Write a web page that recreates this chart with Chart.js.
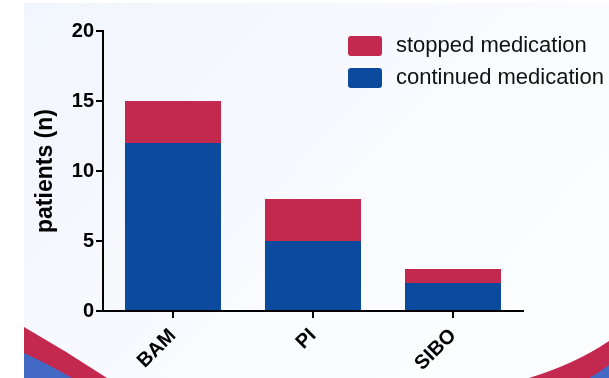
<!DOCTYPE html>
<html>
<head>
<meta charset="utf-8">
<script src="https://cdn.jsdelivr.net/npm/chart.js@4"></script>
<style>
  html, body { margin: 0; padding: 0; background: #ffffff; }
  #wrap { width: 609px; height: 378px; position: relative; }
</style>
</head>
<body>
<div id="wrap"><canvas id="medChart" width="609" height="378"></canvas></div>
<script>
// data
const categories = ['BAM', 'PI', 'SIBO'];
const continuedMedication = [12, 5, 2];
const stoppedMedication = [3, 3, 1];
const yTicks = [0, 5, 10, 15, 20];

const RED = '#c3284f';
const BLUE = '#0b4a9c';
const FONT = '"Liberation Sans", Arial, sans-serif';

// light panel + the red/blue swooshes behind the chart
const backdrop = {
    id: 'backdrop',
    beforeDraw(chart) {
        const c = chart.ctx;
        c.save();
        c.fillStyle = '#ffffff';
        c.fillRect(0, 0, chart.width, chart.height);
        const g = c.createLinearGradient(24, 3, 420, 378);
        g.addColorStop(0, '#f1f5fd');
        g.addColorStop(1, '#fcfdff');
        c.fillStyle = g;
        c.fillRect(24, 3, chart.width - 24, chart.height - 3);

        // left corner
        c.fillStyle = RED;
        c.beginPath();
        c.moveTo(24, 327);
        c.quadraticCurveTo(66, 351, 107, 378);
        c.lineTo(24, 378);
        c.closePath();
        c.fill();
        c.fillStyle = '#4169c4';
        c.beginPath();
        c.moveTo(24, 353);
        c.quadraticCurveTo(50, 365, 72, 378);
        c.lineTo(24, 378);
        c.closePath();
        c.fill();

        // right corner
        c.fillStyle = RED;
        c.beginPath();
        c.moveTo(529, 378);
        c.quadraticCurveTo(575, 364, 609, 341);
        c.lineTo(609, 378);
        c.closePath();
        c.fill();
        c.fillStyle = '#4169c4';
        c.beginPath();
        c.moveTo(589, 378);
        c.quadraticCurveTo(600, 372, 609, 365);
        c.lineTo(609, 378);
        c.closePath();
        c.fill();
        c.restore();
    }
};

// legend drawn inside the plot, stopped on top
const boxLegend = {
    id: 'boxLegend',
    afterDraw(chart) {
        const c = chart.ctx;
        const items = chart.data.datasets.slice().reverse();
        c.save();
        c.font = '22px ' + FONT;
        c.textBaseline = 'middle';
        items.forEach((ds, i) => {
            const y = 36 + i * 32;
            c.fillStyle = ds.backgroundColor;
            c.beginPath();
            c.roundRect(348, y, 34, 20, 3);
            c.fill();
            c.fillStyle = '#111111';
            c.fillText(ds.label, 396, y + 10);
        });
        c.restore();
    }
};

const ctx = document.getElementById('medChart').getContext('2d');
new Chart(ctx, {
    type: 'bar',
    data: {
        labels: categories,
        datasets: [{
            label: 'continued medication',
            data: continuedMedication,
            backgroundColor: BLUE,
        }, {
            label: 'stopped medication',
            data: stoppedMedication,
            backgroundColor: RED,
        }]
    },
    options: {
        responsive: false,
        animation: false,
        layout: { padding: { left: 32, top: 31, right: 86, bottom: 0 } },
        datasets: { bar: { categoryPercentage: 0.686, barPercentage: 1 } },
        plugins: {
            legend: { display: false },
            tooltip: { enabled: false }
        },
        scales: {
            x: {
                stacked: true,
                afterFit: s => { s.height = 67; },
                border: { color: '#000', width: 2 },
                grid: { drawOnChartArea: false, offset: false, color: '#000', lineWidth: 2, tickLength: 7 },
                ticks: {
                    color: '#000',
                    minRotation: 45,
                    maxRotation: 45,
                    padding: 6,
                    font: { family: FONT, size: 20, weight: 'bold' }
                }
            },
            y: {
                stacked: true,
                min: 0,
                max: 20,
                afterFit: s => { s.width = 71; },
                afterBuildTicks: s => { s.ticks = yTicks.map(v => ({ value: v })); },
                border: { color: '#000', width: 2 },
                grid: { drawOnChartArea: false, color: '#000', lineWidth: 2, tickLength: 7 },
                title: {
                    display: true,
                    text: 'patients (n)',
                    color: '#000',
                    padding: { top: 0, bottom: 4 },
                    font: { family: FONT, size: 23, weight: 'bold' }
                },
                ticks: {
                    color: '#000',
                    padding: 2,
                    font: { family: FONT, size: 20, weight: 'bold' }
                }
            }
        }
    },
    plugins: [backdrop, boxLegend]
});
</script>
</body>
</html>
